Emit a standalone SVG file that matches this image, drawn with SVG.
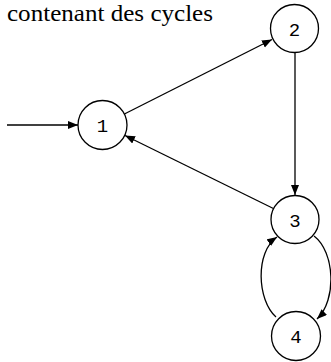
<svg xmlns="http://www.w3.org/2000/svg" width="331" height="362" viewBox="0 0 331 362">
<style>
.node circle{fill:#fff;stroke:#000;stroke-width:1.3}
.node text{font-family:"Liberation Mono","Courier New","DejaVu Sans Mono",monospace;font-size:19px;text-anchor:middle;fill:#000}
.edge{fill:none;stroke:#000;stroke-width:1.3;marker-end:url(#arr)}
</style>
<defs>
<marker id="arr" markerWidth="11" markerHeight="9" refX="10" refY="4" orient="auto" markerUnits="userSpaceOnUse">
<path d="M0,0 L10,4 L0,8 Z" fill="#000"/>
</marker>
</defs>
<text x="7" y="21" font-family="'Liberation Serif', Tinos, 'Times New Roman', 'DejaVu Serif', serif" font-size="24" textLength="206" lengthAdjust="spacingAndGlyphs" fill="#000">contenant des cycles</text>
<g id="connectors">
<path class="edge" d="M7,125 L78,125"/>
<path class="edge" d="M124.4,114 L272,39.5"/>
<path class="edge" d="M295,52.5 L295,195"/>
<path class="edge" d="M273.4,208.5 L125,135.5"/>
<path class="edge" d="M314,236 C335,252 337,300 317,319"/>
<path class="edge" d="M276,317 C257,300 255,252 277,237"/>
</g>
<g id="node1" class="node"><circle cx="102.5" cy="125" r="24.5"/><text x="102.5" y="132">1</text></g>
<g id="node2" class="node"><circle cx="294.5" cy="28.5" r="24"/><text x="294.5" y="35.5">2</text></g>
<g id="node3" class="node"><circle cx="295" cy="219.5" r="24"/><text x="295" y="226.5">3</text></g>
<g id="node4" class="node"><circle cx="296" cy="336" r="24.5"/><text x="296" y="343">4</text></g>
</svg>
